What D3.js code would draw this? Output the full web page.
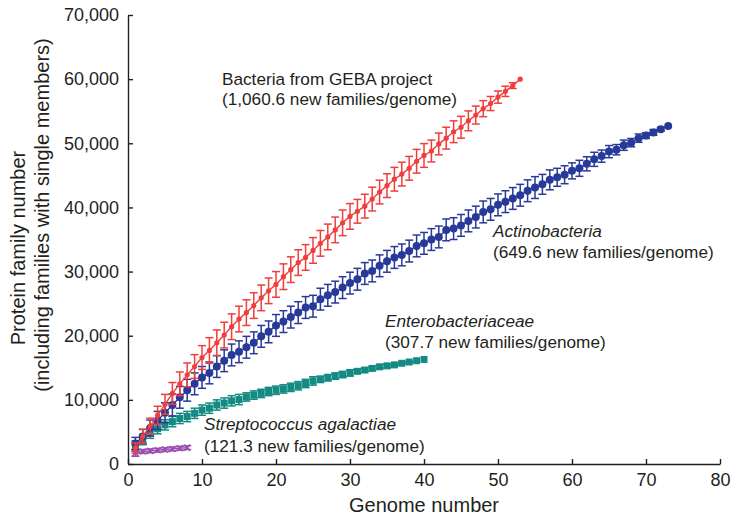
<!DOCTYPE html>
<html><head><meta charset="utf-8">
<script src="https://cdn.jsdelivr.net/npm/d3@7"></script>
<style>
html,body{margin:0;padding:0;background:#fff;}
svg{display:block;font-family:"Liberation Sans",Arial,Helvetica,sans-serif;}
</style></head>
<body>
<svg id="chart" width="739" height="521"></svg>
<script>
// ---- data ----
const xTicks = [0,10,20,30,40,50,60,70,80];
const yTicks = [0,10000,20000,30000,40000,50000,60000,70000];

const gebaValues = [2500,4300,5900,7600,9300,11000,12500,13900,15200,16600,
  17700,18900,20100,21400,22600,23600,24700,25900,27000,28000,
  29200,30300,31400,32200,33300,34400,35400,36500,37600,38600,
  39400,40200,41300,42400,43400,44400,45200,46100,47200,48100,
  48800,49900,50800,51800,52500,53500,54400,55400,56200,57200,
  58100,59000,60000];
const gebaErr = [800,1100,1250,1400,1550,1700,1850,1850,1850,1850,
  2000,2000,2000,2000,2000,2000,2000,2000,2000,2000,
  2000,2000,2000,2000,2000,2000,2000,2000,2000,2000,
  1850,1850,1850,1850,1850,1850,1850,1850,1850,1850,
  1700,1700,1700,1700,1700,1550,1400,1250,1100,950,
  800,450,0];

const actinoValues = [3200,4300,5600,6800,8000,9200,10400,11500,12500,13500,
  14200,15200,16100,17000,17500,18200,18900,19900,20600,21600,
  22200,22900,23600,24400,24600,25700,26300,26800,27500,28200,
  28800,29700,30100,30900,31600,32200,32600,33200,34000,34400,
  35000,35400,36500,36700,37200,37900,38500,39300,39700,40400,
  40900,41400,41900,42600,43100,43600,44300,44700,45100,45700,
  46100,46800,47500,48000,48700,49000,49700,50100,50800,51200,
  51700,52200,52700];
const actinoErr = [950,1100,1250,1400,1550,1700,1700,1700,1700,1700,
  1700,1700,1700,1700,1700,1700,1700,1700,1700,1700,
  1700,1700,1700,1700,1700,1700,1700,1700,1700,1700,
  1700,1700,1700,1700,1700,1700,1700,1700,1700,1700,
  1700,1700,1700,1700,1700,1700,1700,1700,1700,1700,
  1700,1700,1700,1700,1700,1550,1550,1400,1400,1250,
  1250,1100,1100,950,950,800,800,650,650,450,
  450,300,0];

const enteroValues = [2800,3800,4800,5500,6100,6600,7100,7400,7900,8400,
  8700,9200,9500,9850,10050,10450,10750,11000,11300,11500,
  11700,11950,12200,12550,12950,13200,13450,13700,13950,14200,
  14450,14650,14900,15150,15300,15450,15700,15900,16100,16300];
const enteroErr = [800,800,800,800,800,800,800,800,800,800,
  800,800,800,800,800,650,650,650,650,650,
  650,650,650,650,650,500,500,500,500,500,
  300,300,300,300,300,150,150,100,0,0];

const streptoValues = [1700,1950,2050,2150,2250,2350,2450,2550];
const streptoErr = [500,300,300,300,300,300,300,300];

const seriesNames = ["Enterobacteriaceae","Streptococcus agalactiae","Actinobacteria","Bacteria from GEBA project"];
const seriesColors = ["#138a82","#9b4db3","#283a99","#f03e3c"];

// ---- chart ----
const svg = d3.select("#chart");
const x = d3.scaleLinear().domain([0,80]).range([128,720]);
const y = d3.scaleLinear().domain([0,70000]).range([464,15]);
const ink = "#231f20";

const series = [
  {name: seriesNames[0], values: enteroValues, err: enteroErr, color: seriesColors[0], marker: "square", line: false},
  {name: seriesNames[1], values: streptoValues, err: streptoErr, color: seriesColors[1], marker: "cross", line: true},
  {name: seriesNames[2], values: actinoValues, err: actinoErr, color: seriesColors[2], marker: "circle", line: true},
  {name: seriesNames[3], values: gebaValues, err: gebaErr, color: seriesColors[3], marker: "small", line: true}
];

series.forEach(s => {
  const pts = s.values.map((v,i) => ({n: i+1, v: v, e: s.err[i]}));
  const g = svg.append("g");
  if (s.line) {
    g.append("path").datum(pts)
      .attr("fill","none").attr("stroke", s.color).attr("stroke-width",1.4)
      .attr("d", d3.line().x(d => x(d.n)).y(d => y(d.v)));
  }
  const eb = g.selectAll(".eb").data(pts.filter(d => d.e > 0)).enter().append("g");
  eb.append("line").attr("x1", d => x(d.n)).attr("x2", d => x(d.n))
    .attr("y1", d => y(d.v - d.e)).attr("y2", d => y(d.v + d.e))
    .attr("stroke", s.color).attr("stroke-width",1.5);
  [-1,1].forEach(sg => {
    eb.append("line").attr("x1", d => x(d.n) - 4).attr("x2", d => x(d.n) + 4)
      .attr("y1", d => y(d.v + sg*d.e)).attr("y2", d => y(d.v + sg*d.e))
      .attr("stroke", s.color).attr("stroke-width",1.5);
  });
  const m = g.selectAll(".m").data(pts).enter();
  if (s.marker === "circle") {
    m.append("circle").attr("cx", d => x(d.n)).attr("cy", d => y(d.v)).attr("r",4).attr("fill", s.color);
  } else if (s.marker === "small") {
    m.append("circle").attr("cx", d => x(d.n)).attr("cy", d => y(d.v)).attr("r",2.6).attr("fill", s.color);
  } else if (s.marker === "square") {
    m.append("rect").attr("x", d => x(d.n) - 3.5).attr("y", d => y(d.v) - 3.5)
      .attr("width",7).attr("height",7).attr("fill", s.color);
  } else if (s.marker === "cross") {
    m.append("path").attr("transform", d => `translate(${x(d.n)},${y(d.v)})`)
      .attr("d","M-3,-3L3,3M-3,3L3,-3").attr("stroke", s.color).attr("stroke-width",1.5).attr("fill","none");
  }
});

// axes
const xAxis = d3.axisBottom(x).tickValues(xTicks).tickSizeInner(-5).tickSizeOuter(0).tickPadding(9);
const yAxis = d3.axisLeft(y).tickValues(yTicks).tickSizeInner(-5).tickSizeOuter(0).tickPadding(9).tickFormat(d3.format(","));
const gx = svg.append("g").attr("transform","translate(0,464)").call(xAxis);
const gy = svg.append("g").attr("transform","translate(128,0)").call(yAxis);
[gx,gy].forEach(g => {
  g.select(".domain").attr("stroke", ink).attr("stroke-width",1.4);
  g.selectAll(".tick line").attr("stroke", ink).attr("stroke-width",1.4);
  g.selectAll(".tick text").attr("fill", ink).style("font-size","18px").style("font-family","'Liberation Sans',Arial,sans-serif");
});

// axis titles
svg.append("text").attr("x",424).attr("y",512).attr("text-anchor","middle")
  .attr("fill", ink).style("font-size","20px").text("Genome number");
svg.append("text").attr("transform","translate(25,248) rotate(-90)").attr("text-anchor","middle")
  .attr("fill", ink).style("font-size","20px").text("Protein family number");
svg.append("text").attr("transform","translate(49,215) rotate(-90)").attr("text-anchor","middle")
  .attr("fill", ink).style("font-size","20px").text("(including families with single members)");

// annotations
const notes = [
  {x:222, y:85, t:"Bacteria from GEBA project", it:false},
  {x:222, y:105, t:"(1,060.6 new families/genome)", it:false},
  {x:493, y:237, t:"Actinobacteria", it:true},
  {x:493, y:258, t:"(649.6 new families/genome)", it:false},
  {x:385, y:327, t:"Enterobacteriaceae", it:true},
  {x:385, y:348, t:"(307.7 new families/genome)", it:false},
  {x:204, y:430, t:"Streptococcus agalactiae", it:true},
  {x:204, y:452, t:"(121.3 new families/genome)", it:false}
];
svg.selectAll(".note").data(notes).enter().append("text")
  .attr("x", d => d.x).attr("y", d => d.y).attr("fill", ink)
  .style("font-size","17.2px").style("font-style", d => d.it ? "italic" : "normal")
  .text(d => d.t);
</script>
</body></html>
